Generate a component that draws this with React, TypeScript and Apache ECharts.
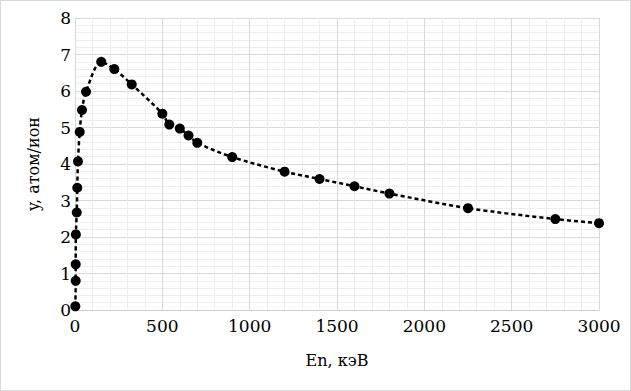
import React, { useEffect, useRef } from "react";
import * as echarts from "echarts";

const energies = [2, 4, 4, 5, 10, 13, 17, 27, 40, 63, 150, 225, 325, 500, 540, 600, 650, 700, 900, 1200, 1400, 1600, 1800, 2250, 2750, 3000];
const yields = [0.1, 0.8, 1.25, 2.07, 2.67, 3.35, 4.07, 4.88, 5.48, 5.98, 6.8, 6.6, 6.18, 5.38, 5.08, 4.97, 4.78, 4.58, 4.19, 3.79, 3.59, 3.39, 3.19, 2.79, 2.49, 2.38];
const xTitle = "En, кэВ";
const yTitle = "y, атом/ион";

export default function App() {
  const ref = useRef<HTMLDivElement>(null);
  useEffect(() => {
    document.body.style.margin = "0";
    const chart = echarts.init(ref.current!, undefined, { renderer: "svg" });
    const font = "DejaVu Serif";
    const data = energies.map((e, i) => [e, yields[i]]);
    chart.setOption({
      animation: false,
      backgroundColor: "#ffffff",
      textStyle: { fontFamily: font },
      graphic: [
        {
          type: "rect",
          shape: { x: 0.5, y: 0.5, width: 630, height: 390 },
          style: { fill: "none", stroke: "#d9d9d9", lineWidth: 1 },
          silent: true,
        },
      ],
      grid: { left: 75, right: 32, top: 18, bottom: 81 },
      xAxis: {
        type: "value",
        min: 0,
        max: 3000,
        interval: 500,
        name: xTitle,
        nameLocation: "middle",
        nameGap: 42,
        nameTextStyle: { fontFamily: font, fontSize: 16, color: "#000" },
        axisLine: { show: true, lineStyle: { color: "#d0d0d0", width: 1 } },
        axisTick: { show: false },
        axisLabel: { fontFamily: font, fontSize: 17, color: "#000", margin: 7, formatter: (v: number) => String(v) },
        splitLine: { show: true, lineStyle: { color: "#d9d9d9", width: 1 } },
        minorTick: { show: false, splitNumber: 5 },
        minorSplitLine: { show: true, lineStyle: { color: "#eeeeee", width: 1 } },
      },
      yAxis: {
        type: "value",
        min: 0,
        max: 8,
        interval: 1,
        name: yTitle,
        nameLocation: "middle",
        nameGap: 34,
        nameRotate: 90,
        nameTextStyle: { fontFamily: font, fontSize: 16, color: "#000" },
        axisLine: { show: true, lineStyle: { color: "#d9d9d9", width: 1 } },
        axisTick: { show: false },
        axisLabel: { fontFamily: font, fontSize: 17, color: "#000", margin: 4, formatter: (v: number) => String(v) },
        splitLine: { show: true, lineStyle: { color: "#d9d9d9", width: 1 } },
        minorTick: { show: false, splitNumber: 5 },
        minorSplitLine: { show: true, lineStyle: { color: "#eeeeee", width: 1 } },
      },
      series: [
        {
          type: "line",
          data,
          smooth: 0.3,
          symbol: "circle",
          symbolSize: 10,
          itemStyle: { color: "#000" },
          lineStyle: { color: "#000", width: 2.5, type: [4, 3] },
        },
      ],
    });
    return () => chart.dispose();
  }, []);
  return <div ref={ref} style={{ width: 631, height: 391 }} />;
}
